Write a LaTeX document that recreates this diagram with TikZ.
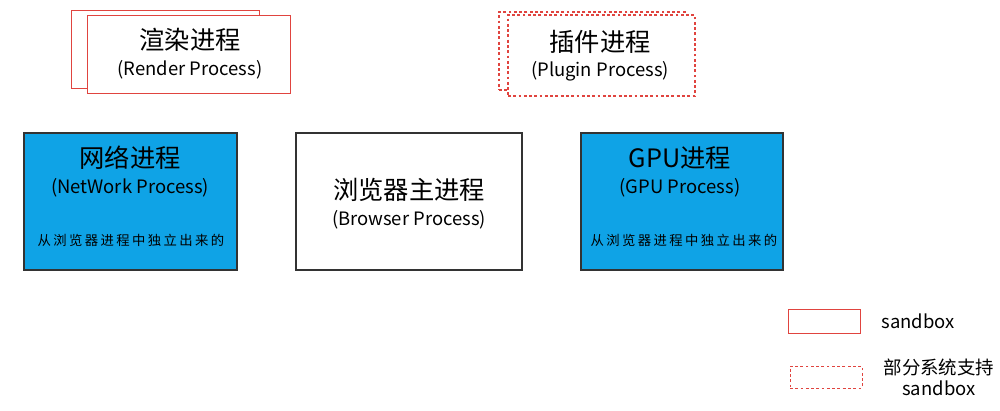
\documentclass[tikz,border=0pt]{standalone}
\usepackage{fontspec}
\usepackage{xcolor}
\setmainfont{Noto Sans CJK SC}
\newfontfamily\spacedfont[LetterSpace=18]{Noto Sans CJK SC}
\usetikzlibrary{positioning}
\definecolor{procblue}{HTML}{0FA3E6}
\definecolor{sandred}{HTML}{E0443F}

\begin{document}
\begin{tikzpicture}[x=0.02cm, y=-0.02cm, font=\fontsize{10.5}{12}\selectfont,
  proc/.style={draw=black!80, thick, minimum width=#1, inner sep=0pt, minimum height=2.74cm},
  sand/.style={draw=sandred, minimum height=1.56cm, minimum width=3.76cm, inner sep=0pt},
  sanddot/.style={sand, dash pattern=on 1.6pt off 1.4pt, thick},
  title/.style={font=\Large},
  note/.style={font=\spacedfont\fontsize{7.6}{9}\selectfont}]
\useasboundingbox (0,0) rectangle (1000,410);
% render process (two stacked sheets)
\node[sand, fill=white] (renderback) at (165,49) {};
\node[sand, fill=white, minimum width=4.06cm] (render) at (188.5,54) {};
\node[title] (rendername) at (190,40) {渲染进程};
\node (renderen) at (190,70) {(Render Process)};
% plugin process
\node[sanddot, fill=white, minimum width=3.72cm] (pluginback) at (592,51) {};
\node[sanddot, fill=white, minimum width=3.74cm, minimum height=1.62cm] (plugin) at (601.5,55.5) {};
\node[title] (pluginname) at (600,42) {插件进程};
\node (pluginen) at (600,71) {(Plugin Process)};
% main row
\node[proc=4.26cm, fill=procblue] (network) at (130.5,201.5) {};
\node[title] (networkname) at (130,158) {网络进程};
\node (networken) at (130,188) {(NetWork Process)};
\node[note] (networknote) at (131,240) {从浏览器进程中独立出来的};
\node[proc=4.52cm, fill=white] (browser) at (409,201.5) {};
\node[title] (browsername) at (409,190) {浏览器主进程};
\node (browseren) at (409,220) {(Browser Process)};
\node[proc=4.04cm, fill=procblue] (gpu) at (682,201.5) {};
\node[title] (gpuname) at (680,158) {GPU进程};
\node (gpuen) at (680,188) {(GPU Process)};
\node[note] (gpunote) at (684,240) {从浏览器进程中独立出来的};
% legend
\node[sand, minimum width=1.44cm, minimum height=0.48cm] (keysolid) at (824,321) {};
\node[right=0.3cm of keysolid] (keysolidtext) {sandbox};
\node[sanddot, thin, minimum width=1.44cm, minimum height=0.44cm] (keydot) at (826,377) {};
\node[align=center, right=0.3cm of keydot] (keydottext) {部分系统支持\\sandbox};
\end{tikzpicture}
\end{document}
